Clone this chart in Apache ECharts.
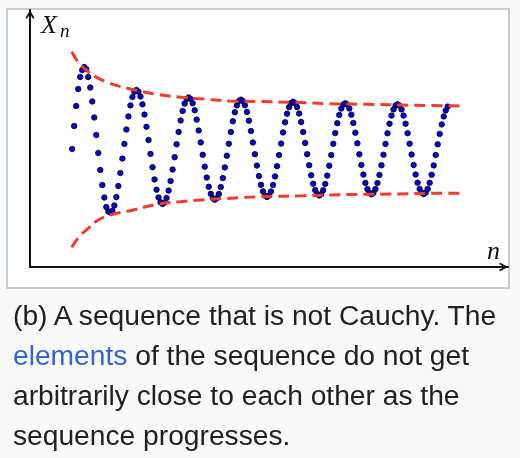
<!DOCTYPE html>
<html><head><meta charset="utf-8">
<script src="https://cdn.jsdelivr.net/npm/echarts@6/dist/echarts.min.js"></script>
<style>
html,body{margin:0;padding:0;background:#f8f9fa;width:520px;height:458px;overflow:hidden;}
#frame{position:absolute;left:6px;top:8px;width:500px;height:277px;border:2px solid #c8ccd1;background:#fff;}
#chart{position:absolute;left:0;top:0;width:520px;height:458px;}
#cap{position:absolute;left:13px;top:295px;font-family:"Liberation Sans",Arial,sans-serif;font-size:28.2px;line-height:40px;color:#202122;white-space:nowrap;}
#cap a{color:#3366cc;text-decoration:none;}
</style></head>
<body>
<div id="frame"></div>
<div id="chart"></div>
<div id="cap">(b) A sequence that is not Cauchy. The<br><a>elements</a> of the sequence do not get<br>arbitrarily close to each other as the<br>sequence progresses.</div>
<script>
// Sequence values X_n for n = 1..188
const xnValues = [
  118, 141, 161, 178, 190, 197, 200,
  198, 190, 179.5, 165.5, 149.5, 132, 114, 97, 82, 69.5, 60, 55.5, 54.5,
  56.3, 61.5, 69.9, 81.0, 94.0, 108.4, 123.1, 137.5, 150.6, 161.6, 170.0, 175.2, 177,
  175.3, 170.5, 162.7, 152.4, 140.2, 126.9, 113.1, 99.8, 87.6, 77.3, 69.5, 64.7, 63,
  64.6, 69.1, 76.4, 86.0, 97.4, 109.8, 122.7, 135.1, 146.5, 156.1, 163.4, 168.0, 169.5,
  168.0, 163.7, 156.7, 147.4, 136.5, 124.6, 112.2, 100.3, 89.4, 80.2, 73.2, 68.8, 67.3,
  68.8, 73.0, 79.9, 88.9, 99.6, 111.3, 123.3, 135.0, 145.7, 154.7, 161.6, 165.9, 167.3,
  165.9, 161.7, 155.1, 146.3, 135.9, 124.5, 112.8, 101.4, 91.0, 82.2, 75.6, 71.4, 70,
  71.4, 75.5, 82.0, 90.6, 100.8, 111.9, 123.4, 134.6, 144.7, 153.3, 159.8, 163.9, 165.3,
  163.9, 159.9, 153.5, 145.0, 135.0, 124.1, 112.8, 101.8, 91.8, 83.3, 76.9, 72.9, 71.5,
  72.8, 76.8, 83.1, 91.4, 101.3, 112.0, 123.2, 133.9, 143.8, 152.1, 158.4, 162.4, 163.7,
  162.4, 158.5, 152.3, 144.1, 134.3, 123.7, 112.7, 102.1, 92.4, 84.1, 77.9, 74.0, 72.7,
  74.0, 77.9, 84.0, 92.1, 101.7, 112.3, 123.1, 133.7, 143.3, 151.4, 157.6, 161.4, 162.7,
  161.4, 157.6, 151.4, 143.3, 133.8, 123.3, 112.5, 102.0, 92.4, 84.3, 78.1, 74.3, 73.0,
  74.3, 78.1, 84.2, 92.2, 101.6, 112.0, 122.7, 133.1, 142.6, 150.6, 156.6, 160.4
];

// Upper envelope (dashed red)
const upperN = [0.8, 3.9, 8.9, 13.2, 19.8, 30.6, 43.1, 55.5, 68.0, 79.5, 94.5, 110.9, 128.5, 146.8, 170.8, 195.2];
const upperH = [215.3, 205.3, 195.3, 189.7, 183.7, 177.7, 172.7, 169.7, 167.7, 166, 165.5, 164.7, 163.3, 162.7, 161.7, 161];

// Lower envelope (dashed red)
const lowerN = [0.8, 4.4, 9.0, 13.2, 19.8, 31.4, 43.1, 54.7, 64.6, 84.6, 94.5, 116.1, 134.3, 159.2, 184.1, 195.2];
const lowerH = [19.7, 30.3, 38.7, 46, 52, 57, 62.7, 65.3, 67, 69.3, 70.3, 71.3, 72.3, 73, 73.7, 73.7];

// Axis labels
const yAxisLabel = 'X';
const yAxisSub = 'n';
const xAxisLabel = 'n';

const chevron = 'path://M5,0 L10,9 L8.6,10.4 L5,4.4 L1.4,10.4 L0,9 Z';

const axisBase = {
  axisTick: { show: false },
  axisLabel: { show: false },
  splitLine: { show: false },
  axisLine: {
    show: true,
    onZero: false,
    symbol: ['none', chevron],
    symbolSize: [9, 9],
    symbolOffset: [0, -4.5],
    lineStyle: { color: '#111', width: 2 }
  }
};

const chart = echarts.init(document.getElementById('chart'), null, { renderer: 'canvas' });
chart.setOption({
  animation: false,
  backgroundColor: 'transparent',
  grid: { left: 30, top: 10, right: 12, bottom: 191, containLabel: false, outerBoundsMode: 'none' },
  xAxis: Object.assign({ type: 'value', min: -20, max: 218 }, axisBase),
  yAxis: Object.assign({ type: 'value', min: 0, max: 257 }, axisBase),
  graphic: [
    { type: 'text', left: 41, top: 13, silent: true,
      style: { text: yAxisLabel, font: 'italic 26px "Liberation Serif", serif', fill: '#111' } },
    { type: 'text', left: 60, top: 22, silent: true,
      style: { text: yAxisSub, font: 'italic 19px "Liberation Serif", serif', fill: '#111' } },
    { type: 'text', left: 487, top: 239, silent: true,
      style: { text: xAxisLabel, font: 'italic 26px "Liberation Serif", serif', fill: '#111' } }
  ],
  series: [
    {
      type: 'scatter',
      data: xnValues.map((v, i) => [i + 1, v]),
      symbolSize: 5.5,
      itemStyle: { color: '#0000dd', borderColor: '#000', borderWidth: 0.8, opacity: 1 },
      z: 2, silent: true
    },
    {
      type: 'line',
      data: upperN.map((n, i) => [n, upperH[i]]),
      smooth: 0.4, symbol: 'none',
      lineStyle: { color: '#f03c30', width: 3, type: [11, 6] },
      z: 3, silent: true
    },
    {
      type: 'line',
      data: lowerN.map((n, i) => [n, lowerH[i]]),
      smooth: 0.4, symbol: 'none',
      lineStyle: { color: '#f03c30', width: 3, type: [11, 6] },
      z: 3, silent: true
    }
  ]
});
</script>
</body></html>
